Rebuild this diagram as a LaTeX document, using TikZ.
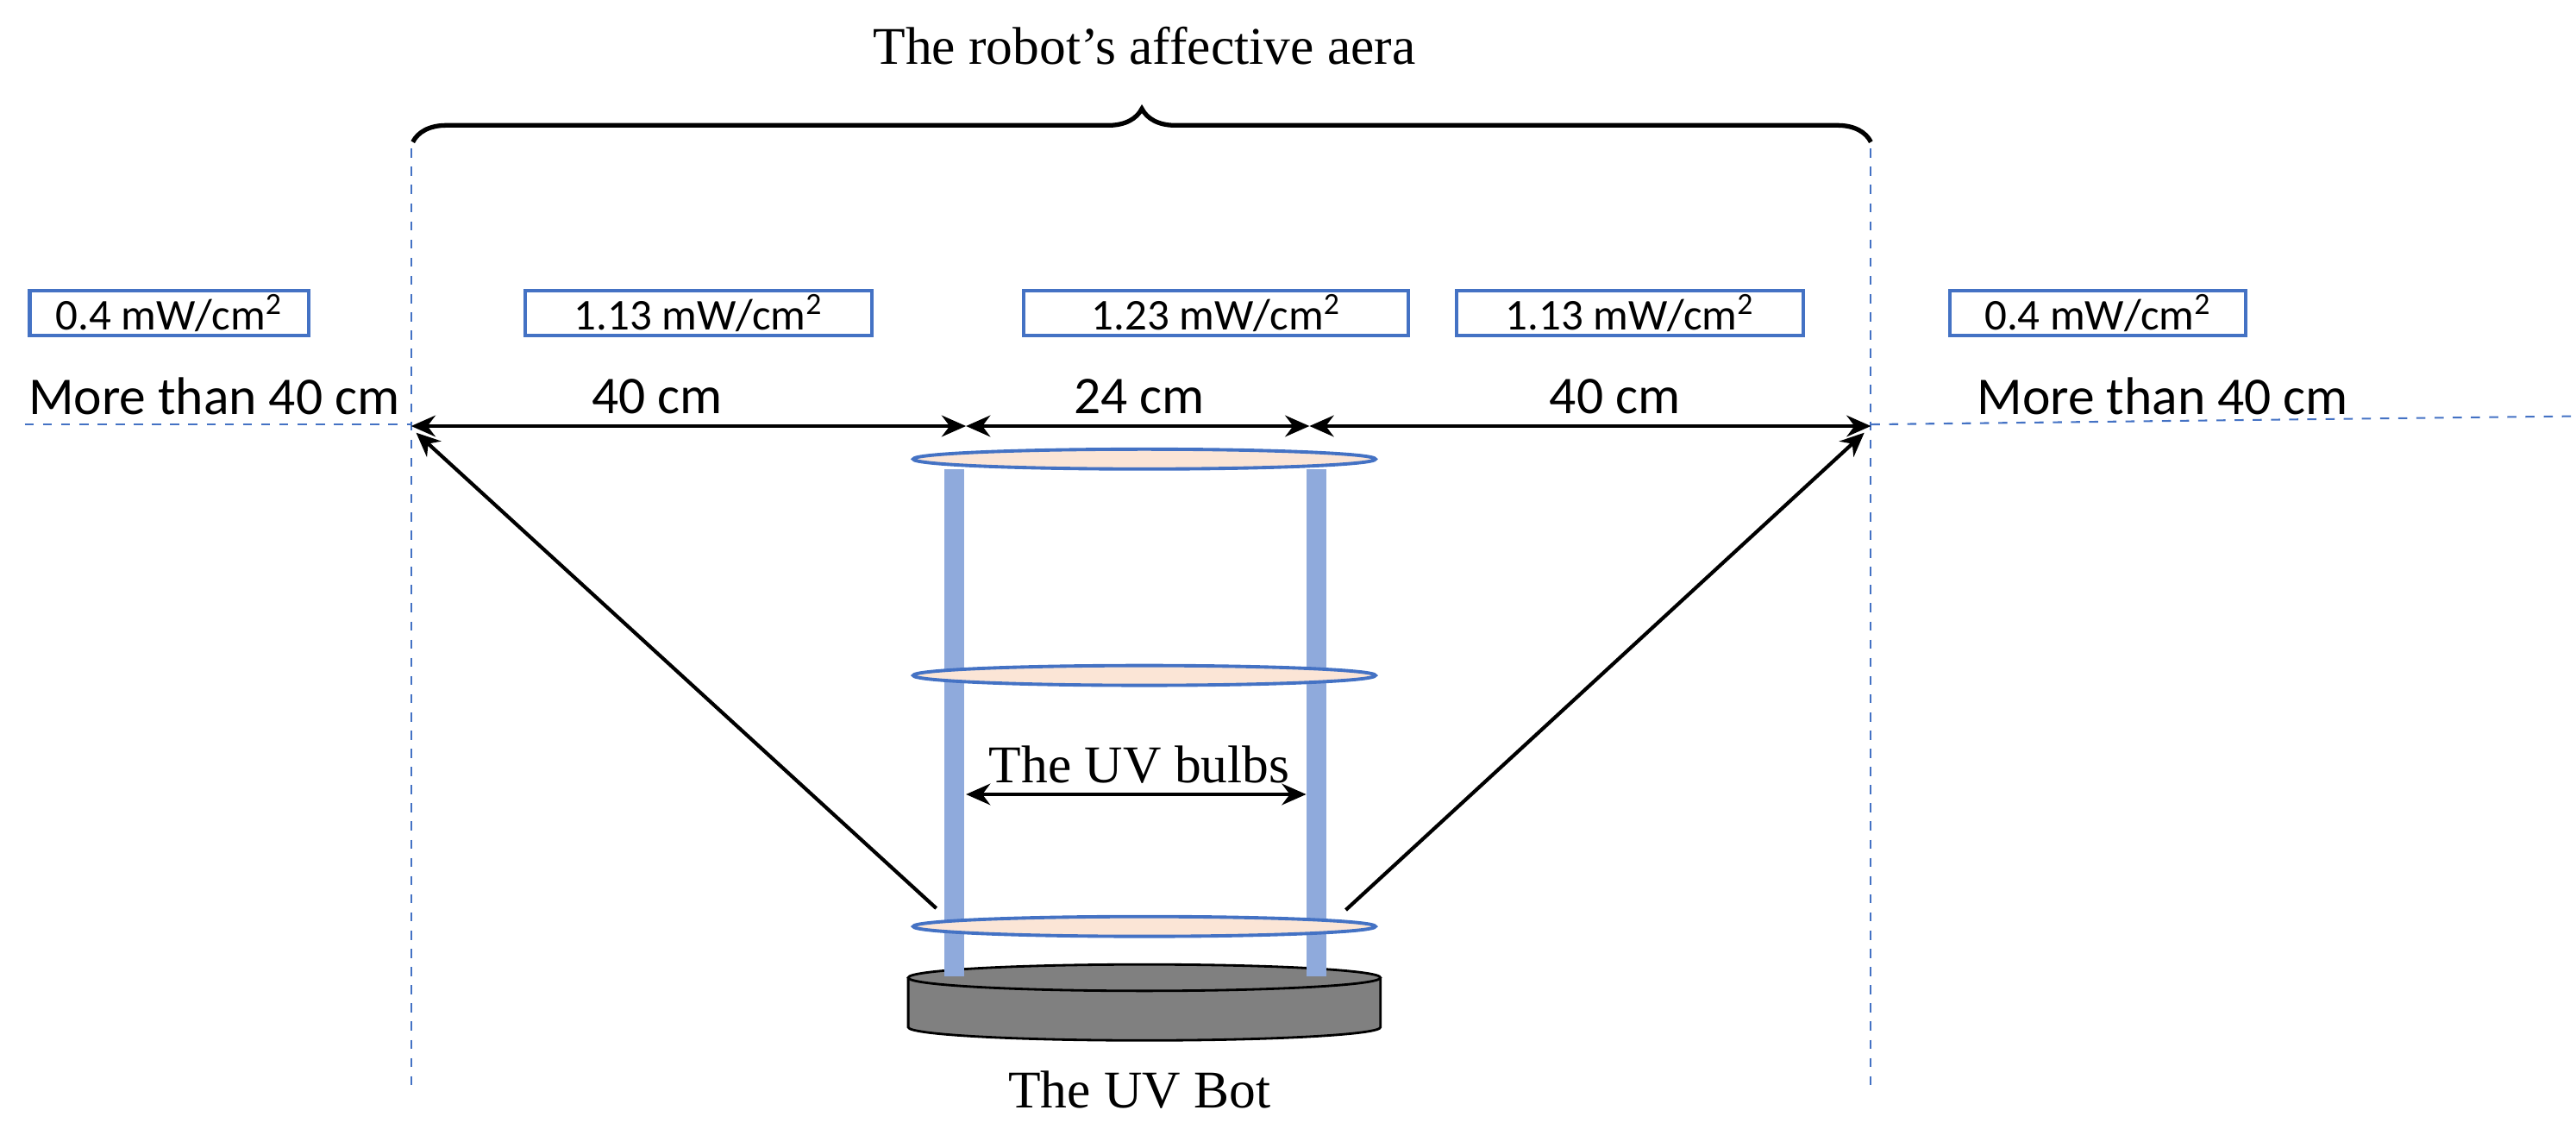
\documentclass[tikz,border=0pt]{standalone}
\usepackage{fontspec}
\setmainfont{Liberation Serif}
\newfontfamily\carl{Carlito}
\usetikzlibrary{arrows.meta,decorations.pathreplacing}
\definecolor{bl}{HTML}{4472C4}
\definecolor{pole}{HTML}{8FAADC}
\definecolor{peach}{HTML}{FBE5D6}
\begin{document}
\begin{tikzpicture}[x=0.01915cm,y=-0.01915cm,
 box/.style={draw=bl,line width=1.2pt,fill=white,font=\carl\fontsize{14.5}{16}\selectfont,minimum height=0.52cm,inner sep=1pt},
 lbl/.style={font=\carl\fontsize{17.5}{19}\selectfont,inner sep=0},
 ser/.style={font=\fontsize{17.5}{19}\selectfont,inner sep=0},
 guide/.style={draw=bl,dashed,line width=0.6pt},
 arr/.style={-{Stealth[length=8pt,width=7pt]},line width=1.2pt},
 darr/.style={{Stealth[length=8pt,width=7pt]}-{Stealth[length=8pt,width=7pt]},line width=1.2pt},
 disk/.style={draw=bl,fill=peach,line width=1.1pt}]
\useasboundingbox (0,0) rectangle (1560,683.5);
\node[ser] (title) at (693,28) {The robot’s affective aera};
\draw[decorate,decoration={brace,amplitude=11pt},line width=1.5pt] (250,86) -- (1133,86);
% dashed guides
\coordinate (vl1) at (249,90); \coordinate (vl2) at (249,658);
\coordinate (vr1) at (1133,90); \coordinate (vr2) at (1133,658);
\draw[guide] (vl1) -- (vl2); \draw[guide] (vr1) -- (vr2);
\coordinate (hl1) at (15,257); \coordinate (hl2) at (249,257);
\coordinate (hr1) at (1133,257); \coordinate (hr2) at (1560,252);
\draw[guide] (hl1) -- (hl2); \draw[guide] (hr1) -- (hr2);
% boxes
\node[box,minimum width=169*0.01915cm] (b1) at (102.5,189.5) {0.4 mW/cm\textsuperscript{2}};
\node[box,minimum width=210*0.01915cm] (b2) at (423,189.5) {1.13 mW/cm\textsuperscript{2}};
\node[box,minimum width=233*0.01915cm] (b3) at (736.5,189.5) {1.23 mW/cm\textsuperscript{2}};
\node[box,minimum width=210*0.01915cm] (b4) at (987,189.5) {1.13 mW/cm\textsuperscript{2}};
\node[box,minimum width=179*0.01915cm] (b5) at (1270.5,189.5) {0.4 mW/cm\textsuperscript{2}};
% distance labels
\node[lbl,anchor=west] (m1) at (17,240) {More than 40 cm};
\node[lbl] (d1) at (398,240) {40 cm};
\node[lbl] (d2) at (690,240) {24 cm};
\node[lbl] (d3) at (978,240) {40 cm};
\node[lbl,anchor=west] (m2) at (1197,240) {More than 40 cm};
\coordinate (a0) at (249,258); \coordinate (a1) at (585,258);
\coordinate (a2) at (793,258); \coordinate (a3) at (1133,258);
\draw[darr] (a0) -- (a1); \draw[darr] (a1) -- (a2); \draw[darr] (a2) -- (a3);
% base
\draw[fill=gray,line width=0.8pt] (550,592) -- (550,622) arc[start angle=180,end angle=0,x radius=143,y radius=8] -- (836,592);
\draw[fill=gray,line width=0.8pt] (693,592) ellipse[x radius=143,y radius=8];
% poles
\fill[pole] (572,284) rectangle (584,591);
\fill[pole] (791,284) rectangle (803,591);
% disks
\draw[disk] (693,278) ellipse[x radius=140,y radius=6];
\draw[disk] (693,409) ellipse[x radius=140,y radius=6];
\draw[disk] (693,561) ellipse[x radius=140,y radius=6];
% labels
\node[ser] (bulbs) at (690,463) {The UV bulbs};
\coordinate (u1) at (585,481); \coordinate (u2) at (791,481);
\draw[darr] (u1) -- (u2);
\node[ser] (bot) at (690,660) {The UV Bot};
% diagonal arrows
\coordinate (s1) at (567,550); \coordinate (e1) at (252,262);
\coordinate (s2) at (815,551); \coordinate (e2) at (1129,262);
\draw[arr] (s1) -- (e1); \draw[arr] (s2) -- (e2);
\end{tikzpicture}
\end{document}
